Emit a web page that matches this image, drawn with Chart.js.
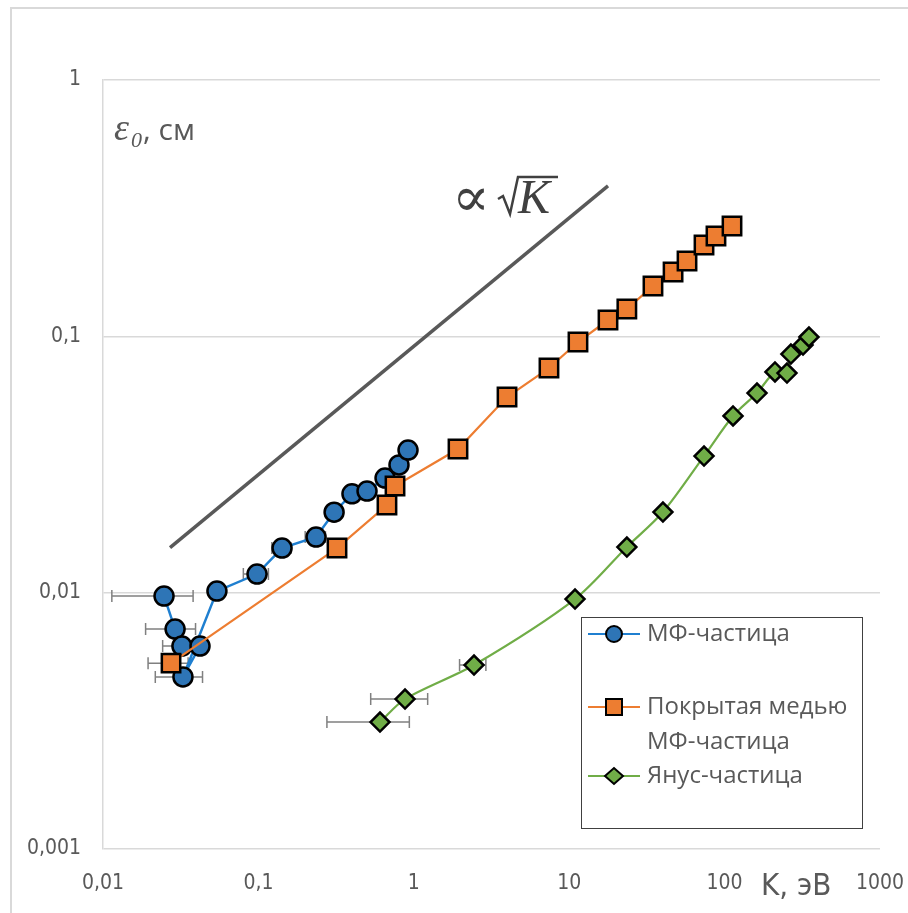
<!DOCTYPE html>
<html>
<head>
<meta charset="utf-8">
<script src="https://cdn.jsdelivr.net/npm/chart.js@4/dist/chart.umd.min.js"></script>
<style>
  html, body { margin: 0; padding: 0; background: #fff; }
  #wrap { position: relative; width: 908px; height: 913px; }
</style>
</head>
<body>
<div id="wrap"><canvas id="chart"></canvas></div>
<script>
// МФ-частица
const mfK   = [0.0247, 0.0291, 0.0322, 0.0421, 0.0327, 0.0541, 0.098, 0.142, 0.235, 0.307, 0.400, 0.500, 0.653, 0.803, 0.918];
const mfEps = [0.0097, 0.00721, 0.00619, 0.00619, 0.00469, 0.01014, 0.01182, 0.01493, 0.01648, 0.0206, 0.0243, 0.0249, 0.0280, 0.0315, 0.0360];
const mfErr = [0.0133, 0.0103, 0.008, 0.004, 0.011, 0.004, 0.018, 0.02, 0.035, 0, 0, 0, 0, 0, 0];

// Покрытая медью МФ-частица
const cuK   = [0.0274, 0.3205, 0.672, 0.757, 1.925, 3.98, 7.41, 11.39, 17.77, 23.5, 34.6, 46.6, 57.3, 73.7, 88.0, 111.6];
const cuEps = [0.00531, 0.01493, 0.02197, 0.02606, 0.03634, 0.058, 0.0752, 0.0950, 0.1158, 0.1278, 0.1572, 0.1782, 0.1967, 0.2271, 0.2462, 0.2694];
const cuErr = [0.0079, 0, 0, 0, 0, 0, 0, 0, 0, 0, 0, 0, 0, 0, 0, 0];

// Янус-частица
const janusK   = [0.606, 0.878, 2.44, 10.9, 23.5, 40.1, 73.7, 113.3, 161.6, 211, 252, 267, 319.6, 349];
const janusEps = [0.003127, 0.003845, 0.00522, 0.00944, 0.01507, 0.02063, 0.0341, 0.0489, 0.0601, 0.0726, 0.0719, 0.0853, 0.0925, 0.0994];
const janusErr = [0.33, 0.35, 0.47, 0, 0, 0, 0, 0, 0, 0, 0, 0, 0, 0];

// guide line ∝ √K
const sqrtK   = [0.027, 17.77];
const sqrtEps = [0.0150, 0.386];

const xTicks = [0.01, 0.1, 1, 10, 100, 1000];
const yTicks = [0.001, 0.01, 0.1, 1];

const labelNames = ['МФ-частица', 'Покрытая медью\nМФ-частица', 'Янус-частица'];

const GRAY_TEXT = '#595959';
const tickFont = { family: "'Liberation Sans Narrow', 'DejaVu Sans Condensed', sans-serif", size: 21 };

const pts = (xs, ys) => xs.map((v, i) => ({ x: v, y: ys[i] }));
const fmt = v => String(v).replace('.', ',');

const errorBars = {
  id: 'errorBars',
  beforeDatasetsDraw(chart) {
    const { ctx, scales: { x, y } } = chart;
    ctx.save();
    ctx.strokeStyle = '#808080';
    ctx.lineWidth = 1.5;
    chart.data.datasets.forEach(ds => {
      if (!ds.xErr) return;
      ds.data.forEach((p, i) => {
        const e = ds.xErr[i];
        if (!e) return;
        const py = y.getPixelForValue(p.y);
        const x1 = x.getPixelForValue(p.x - e);
        const x2 = x.getPixelForValue(p.x + e);
        ctx.beginPath();
        ctx.moveTo(x1, py); ctx.lineTo(x2, py);
        ctx.moveTo(x1, py - 6); ctx.lineTo(x1, py + 6);
        ctx.moveTo(x2, py - 6); ctx.lineTo(x2, py + 6);
        ctx.stroke();
      });
    });
    ctx.restore();
  }
};

const decor = {
  id: 'decor',
  afterDraw(chart) {
    const { ctx } = chart;
    ctx.save();
    // outer frame
    ctx.strokeStyle = '#d9d9d9';
    ctx.lineWidth = 2;
    ctx.strokeRect(11, 8, 1000, 1000);

    // y title: ε0, см
    ctx.fillStyle = GRAY_TEXT;
    ctx.textBaseline = 'alphabetic';
    ctx.textAlign = 'left';
    ctx.font = "italic 38px 'Liberation Serif', serif";
    ctx.fillText('ε', 114, 140);
    ctx.font = "italic 22px 'Liberation Serif', serif";
    ctx.fillText('0', 131, 147);
    ctx.font = "30px 'Open Sans', sans-serif";
    ctx.fillText(', см', 143, 140);

    // x title
    ctx.font = "31px 'Liberation Sans Narrow', 'DejaVu Sans Condensed', sans-serif";
    ctx.fillText('K, эВ', 761, 895);

    // ∝ √K label
    ctx.fillStyle = '#404040';
    ctx.font = "56px 'DejaVu Serif', serif";
    ctx.fillText('∝', 452, 216);
    ctx.font = "italic 48px 'Liberation Serif', serif";
    ctx.fillText('K', 518, 213);
    ctx.strokeStyle = '#404040';
    ctx.lineWidth = 2.5;
    ctx.lineJoin = 'miter';
    ctx.beginPath();
    ctx.moveTo(498, 199);
    ctx.lineTo(503, 196);
    ctx.lineTo(510, 214);
    ctx.lineTo(518, 177);
    ctx.lineTo(558, 177);
    ctx.stroke();

    // legend box
    ctx.strokeStyle = '#404040';
    ctx.lineWidth = 1;
    ctx.strokeRect(581.5, 617.5, 281, 211);
    const rows = [634, 707, 776];
    ctx.font = "24px 'Open Sans', sans-serif";
    ctx.textBaseline = 'middle';
    rows.forEach((ry, k) => {
      const ds = chart.data.datasets[k];
      ctx.strokeStyle = ds.borderColor;
      ctx.lineWidth = 2;
      ctx.beginPath();
      ctx.moveTo(588, ry); ctx.lineTo(640, ry);
      ctx.stroke();
      ctx.fillStyle = ds.pointBackgroundColor;
      ctx.strokeStyle = '#000';
      ctx.lineWidth = 2;
      ctx.beginPath();
      if (ds.pointStyle === 'circle') ctx.arc(614, ry, 8, 0, Math.PI * 2);
      else if (ds.pointStyle === 'rect') ctx.rect(606, ry - 8, 16, 16);
      else { ctx.moveTo(605, ry); ctx.lineTo(614, ry - 8); ctx.lineTo(623, ry); ctx.lineTo(614, ry + 8); ctx.closePath(); }
      ctx.fill(); ctx.stroke();
      ctx.fillStyle = GRAY_TEXT;
      labelNames[k].split('\n').forEach((t, j) => ctx.fillText(t, 647, ry + j * 35));
    });
    ctx.restore();
  }
};

new Chart(document.getElementById('chart'), {
  type: 'scatter',
  data: {
    datasets: [
      {
        label: labelNames[0],
        data: pts(mfK, mfEps),
        xErr: mfErr,
        showLine: true,
        borderColor: '#1f7fd0',
        borderWidth: 2.5,
        pointStyle: 'circle',
        pointRadius: 9.5,
        pointBackgroundColor: '#2E75B6',
        pointBorderColor: '#000',
        pointBorderWidth: 2.5,
        order: 2
      },
      {
        label: labelNames[1],
        data: pts(cuK, cuEps),
        xErr: cuErr,
        showLine: true,
        borderColor: '#ED7D31',
        borderWidth: 2.2,
        pointStyle: 'rect',
        pointRadius: 13,
        pointBackgroundColor: '#ED7D31',
        pointBorderColor: '#000',
        pointBorderWidth: 2.5,
        order: 1
      },
      {
        label: labelNames[2],
        data: pts(janusK, janusEps),
        xErr: janusErr,
        showLine: true,
        tension: 0.3,
        borderColor: '#70AD47',
        borderWidth: 2.2,
        pointStyle: 'rectRot',
        pointRadius: 9.5,
        pointBackgroundColor: '#70AD47',
        pointBorderColor: '#000',
        pointBorderWidth: 2.5,
        order: 0
      },
      {
        label: 'sqrt',
        data: pts(sqrtK, sqrtEps),
        showLine: true,
        borderColor: '#595959',
        borderWidth: 3.5,
        pointRadius: 0,
        order: 3
      }
    ]
  },
  options: {
    responsive: true,
    maintainAspectRatio: false,
    animation: false,
    events: [],
    layout: { padding: { top: 80, right: 28, left: 0, bottom: 0 } },
    plugins: { legend: { display: false }, tooltip: { enabled: false } },
    scales: {
      x: {
        type: 'logarithmic',
        min: 0.01,
        max: 1000,
        afterBuildTicks: s => { s.ticks = xTicks.map(v => ({ value: v })); },
        afterFit: s => { s.height = 64; s.paddingRight = 0; s.paddingLeft = 0; },
        ticks: { callback: v => fmt(v), color: GRAY_TEXT, font: tickFont, padding: 14, maxRotation: 0, autoSkip: false },
        grid: { display: false },
        border: { display: false }
      },
      y: {
        type: 'logarithmic',
        min: 0.001,
        max: 1,
        afterBuildTicks: s => { s.ticks = yTicks.map(v => ({ value: v })); },
        afterFit: s => { s.width = 103; },
        ticks: { callback: v => fmt(v), color: GRAY_TEXT, font: tickFont, padding: 22, autoSkip: false },
        grid: { color: '#d9d9d9', lineWidth: 1.5, drawTicks: false },
        border: { display: true, color: '#d9d9d9', width: 1.5 }
      }
    }
  },
  plugins: [errorBars, decor]
});
</script>
</body>
</html>
